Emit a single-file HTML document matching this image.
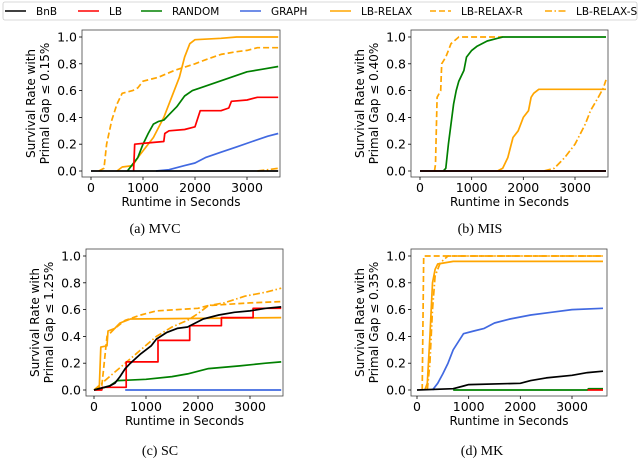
<!DOCTYPE html>
<html><head><meta charset="utf-8">
<style>
body{margin:0;background:#fff;width:640px;height:461px;overflow:hidden}
svg text{font-family:"DejaVu Sans","Liberation Sans",sans-serif}
.cap{font-family:"Liberation Serif","DejaVu Serif",serif}
</style></head>
<body>
<svg id="c" width="640" height="461" viewBox="0 0 640 461" xmlns="http://www.w3.org/2000/svg"></svg>
<script>
// ---- data: [seconds, survival rate] points (duplicated x = vertical jump) ----
const mvcBnB=[[0,0],[3600,0]];
const mvcLB=[[820,0],[840,0.2],[1100,0.21],[1400,0.22],[1420,0.28],[1500,0.3],[1800,0.31],[2000,0.33],[2100,0.45],[2500,0.45],[2650,0.47],[2700,0.52],[3000,0.53],[3200,0.55],[3600,0.55]];
const mvcRandom=[[700,0],[800,0.05],[900,0.1],[1000,0.2],[1100,0.28],[1200,0.35],[1300,0.37],[1400,0.38],[1500,0.42],[1650,0.48],[1800,0.56],[1950,0.6],[2100,0.62],[2400,0.66],[2700,0.7],[3000,0.74],[3300,0.76],[3600,0.78]];
const mvcGraph=[[1250,0],[1500,0.01],[1800,0.04],[2000,0.06],[2200,0.1],[2500,0.14],[2800,0.18],[3100,0.22],[3400,0.26],[3600,0.28]];
const mvcRelax=[[500,0],[600,0.03],[800,0.04],[900,0.1],[1000,0.15],[1200,0.25],[1400,0.4],[1550,0.55],[1700,0.7],[1800,0.85],[1900,0.95],[2000,0.98],[2500,0.99],[2800,1],[3600,1]];
const mvcRelaxR=[[150,0],[250,0.02],[300,0.2],[400,0.38],[500,0.5],[600,0.58],[800,0.6],[900,0.62],[1000,0.67],[1300,0.7],[1600,0.75],[2000,0.8],[2200,0.83],[2500,0.87],[2800,0.89],[3000,0.9],[3200,0.92],[3600,0.92]];
const mvcRelaxS=[[3200,0],[3400,0.01],[3600,0.02]];

const misBnB=[[0,0],[3600,0]];
const misLB=[[0,0],[3600,0]];
const misRandom=[[450,0],[500,0.02],[550,0.2],[650,0.5],[700,0.6],[750,0.67],[850,0.75],[900,0.85],[1000,0.9],[1100,0.93],[1300,0.97],[1500,0.99],[1600,1],[3600,1]];
const misGraph=[];
const misRelax=[[1500,0],[1600,0.02],[1700,0.1],[1800,0.25],[1900,0.3],[2000,0.4],[2100,0.45],[2150,0.55],[2200,0.58],[2300,0.61],[3600,0.61]];
const misRelaxR=[[280,0],[300,0.05],[330,0.55],[400,0.6],[420,0.8],[500,0.85],[600,0.95],[750,1],[1600,1]];
const misRelaxS=[[2400,0],[2600,0.02],[2800,0.1],[3000,0.2],[3200,0.35],[3300,0.45],[3450,0.55],[3550,0.62],[3600,0.68]];

const scBnB=[[0,0],[300,0.03],[400,0.05],[500,0.1],[600,0.16],[700,0.2],[900,0.27],[1100,0.33],[1200,0.38],[1400,0.43],[1600,0.46],[1800,0.47],[2100,0.53],[2400,0.56],[2700,0.58],[3000,0.59],[3300,0.61],[3600,0.62]];
const scLB=[[0,0],[150,0.0],[160,0.02],[620,0.02],[620,0.21],[1230,0.21],[1230,0.37],[1840,0.37],[1840,0.48],[2450,0.48],[2450,0.54],[3060,0.54],[3060,0.61],[3600,0.61]];
const scRandom=[[0,0],[300,0.03],[450,0.07],[1000,0.08],[1500,0.1],[1800,0.12],[2200,0.16],[2800,0.18],[3300,0.2],[3600,0.21]];
const scGraph=[[600,0],[3600,0]];
const scRelax=[[100,0],[130,0.32],[250,0.33],[270,0.44],[400,0.46],[500,0.5],[700,0.53],[3600,0.54]];
const scRelaxR=[[0,0],[150,0.03],[250,0.4],[400,0.46],[600,0.52],[900,0.56],[1200,0.59],[1600,0.6],[2000,0.61],[2200,0.63],[2600,0.64],[3000,0.65],[3600,0.66]];
const scRelaxS=[[0,0],[150,0.05],[300,0.1],[600,0.2],[900,0.3],[1200,0.4],[1500,0.47],[1800,0.52],[2000,0.57],[2200,0.63],[2500,0.65],[2900,0.7],[3300,0.73],[3600,0.76]];

const mkBnB=[[0,0],[700,0.01],[900,0.03],[1000,0.04],[2000,0.05],[2200,0.07],[2500,0.09],[3000,0.11],[3300,0.13],[3600,0.14]];
const mkLB=[[3300,0],[3600,0]];
const mkRandom=[[700,0],[3300,0],[3320,0.01],[3600,0.01]];
const mkGraph=[[300,0],[400,0.05],[500,0.12],[600,0.2],[700,0.3],[800,0.36],[900,0.42],[1100,0.44],[1300,0.46],[1500,0.5],[1800,0.53],[2200,0.56],[2600,0.58],[3000,0.6],[3600,0.61]];
const mkRelax=[[150,0],[200,0.05],[250,0.4],[300,0.8],[350,0.9],[400,0.94],[700,0.96],[3600,0.96]];
const mkRelaxR=[[100,0],[130,1],[3600,1]];
const mkRelaxS=[[200,0],[250,0.2],[300,0.6],[350,0.85],[450,0.95],[600,1],[3600,1]];

const xTicks=[0,1000,2000,3000];
const yTicks=[0,0.2,0.4,0.6,0.8,1.0];
const legendNames=["BnB","LB","RANDOM","GRAPH","LB-RELAX","LB-RELAX-R","LB-RELAX-S"];

const NS="http://www.w3.org/2000/svg";
const svg=document.getElementById('c');
function mk(tag,attrs,parent){const e=document.createElementNS(NS,tag);for(const k in attrs)e.setAttribute(k,attrs[k]);(parent||svg).appendChild(e);return e;}

const styles={
 bnb:{c:"#000000",d:""},lb:{c:"#ff0000",d:""},random:{c:"#008000",d:""},graph:{c:"#4169e1",d:""},
 relax:{c:"#ffa500",d:""},relaxR:{c:"#ffa500",d:"6,3"},relaxS:{c:"#ffa500",d:"7,2.5,1.5,2.5"}
};

const lg=mk('g',{});


mk('rect',{x:3,y:2,width:634,height:18,rx:2,fill:"#fff",stroke:"#ccc","stroke-width":0.8},lg);
const lgKeys=["bnb","lb","random","graph","relax","relaxR","relaxS"];
const lgX=[5,78,141,240,330,430,545];
legendNames.forEach((n,i)=>{
  const g=mk('g',{},lg);
  
  
  const s=styles[lgKeys[i]];
  mk('line',{x1:lgX[i],x2:lgX[i]+21,y1:11,y2:11,stroke:s.c,"stroke-width":1.5,"stroke-dasharray":s.d},g);
  const t=mk('text',{x:lgX[i]+31,y:15,"font-size":10.5,fill:"#000"},g);t.textContent=n;
});

function panel(p){
  const g=mk('g',{});
  
  
  const X=v=>p.x0+(v/3000)*(p.x3-p.x0);
  const Y=v=>p.y0+(v)*(p.y1-p.y0);
  mk('rect',{x:p.fl,y:p.ft,width:p.fr-p.fl,height:p.fb-p.ft,fill:"none",stroke:"#444","stroke-width":0.8},g);
  xTicks.forEach(t=>{
    mk('line',{x1:X(t),x2:X(t),y1:p.fb,y2:p.fb+3,stroke:"#000","stroke-width":0.8},g);
    const tx=mk('text',{x:X(t),y:p.fb+15,"font-size":12.5,"text-anchor":"middle"},g);tx.textContent=t;
  });
  yTicks.forEach(t=>{
    mk('line',{x1:p.fl-3,x2:p.fl,y1:Y(t),y2:Y(t),stroke:"#000","stroke-width":0.8},g);
    const tx=mk('text',{x:p.fl-5,y:Y(t)+4.5,"font-size":12.5,"text-anchor":"end"},g);tx.textContent=t.toFixed(1);
  });
  const xl=mk('text',{x:(p.fl+p.fr)/2,y:p.fb+29,"font-size":12,"text-anchor":"middle"},g);xl.textContent="Runtime in Seconds";
  
  
  const cy=(p.ft+p.fb)/2;
  const yl=mk('text',{transform:`translate(${p.fl-47},${cy}) rotate(-90)`,"font-size":12,"text-anchor":"middle"},g);
  
  
  const t1=mk('tspan',{x:0,y:0},yl);t1.textContent="Survival Rate with";
  const t2=mk('tspan',{x:0,y:14},yl);t2.textContent="Primal Gap ≤ "+p.gap;
  const order=["relaxS","relaxR","relax","graph","random","lb","bnb"];
  order.forEach(k=>{
    const d=p.series[k];if(!d||!d.length)return;
    const path=d.map((pt,i)=>(i?"L":"M")+X(pt[0]).toFixed(1)+","+Y(pt[1]).toFixed(1)).join("");
    const pe=mk('path',{d:path,fill:"none",stroke:styles[k].c,"stroke-width":1.7,"stroke-dasharray":styles[k].d,"stroke-linejoin":"round"},g);
    
    
  });
  const cap=mk('text',{x:p.capX,y:p.capY,"font-size":14,"text-anchor":"middle",class:"cap"},g);cap.textContent=p.cap;
  
  
}

panel({id:"mvc",cap:"(a) MVC",gap:"0.15%",fl:82,fr:280,ft:30,fb:177,x0:91,x3:247,y0:171,y1:37,capX:155,capY:233,
 series:{bnb:mvcBnB,lb:mvcLB,random:mvcRandom,graph:mvcGraph,relax:mvcRelax,relaxR:mvcRelaxR,relaxS:mvcRelaxS}});
panel({id:"mis",cap:"(b) MIS",gap:"0.40%",fl:411,fr:608,ft:30,fb:177,x0:420,x3:575,y0:171,y1:37,capX:480,capY:233,
 series:{bnb:misBnB,lb:misLB,random:misRandom,graph:misGraph,relax:misRelax,relaxR:misRelaxR,relaxS:misRelaxS}});
panel({id:"sc",cap:"(c) SC",gap:"1.25%",fl:86,fr:283,ft:249,fb:396,x0:94,x3:250,y0:390,y1:256,capX:160,capY:455,
 series:{bnb:scBnB,lb:scLB,random:scRandom,graph:scGraph,relax:scRelax,relaxR:scRelaxR,relaxS:scRelaxS}});
panel({id:"mk",cap:"(d) MK",gap:"0.35%",fl:411,fr:607,ft:249,fb:396,x0:417,x3:572,y0:390,y1:256,capX:482,capY:455,
 series:{bnb:mkBnB,lb:mkLB,random:mkRandom,graph:mkGraph,relax:mkRelax,relaxR:mkRelaxR,relaxS:mkRelaxS}});
</script>
</body></html>
